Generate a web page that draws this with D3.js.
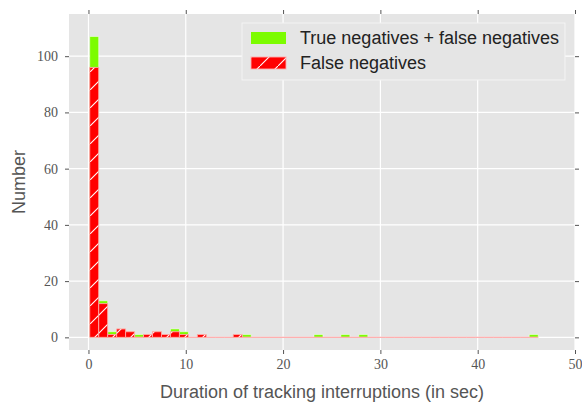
<!DOCTYPE html>
<html>
<head>
<meta charset="utf-8">
<script src="https://cdn.jsdelivr.net/npm/d3@7"></script>
<style>
  body { margin: 0; background: #fff; }
  svg { display: block; }
</style>
</head>
<body>
<div id="viz-wrapper"></div>
<script>
// histogram: 50 equal bins between shortest and longest interruption (sec)
let binMin = 0.13,
    binMax = 46.22,
    binCount = 50;

// counts per bin: true negatives + false negatives (green)
let totalCounts = [107, 13, 2, 3, 2, 1, 1, 2, 1, 3,
                   2, 0, 1, 0, 0, 0, 1, 1, 0, 0,
                   0, 0, 0, 0, 0, 1, 0, 0, 1, 0,
                   1, 0, 0, 0, 0, 0, 0, 0, 0, 0,
                   0, 0, 0, 0, 0, 0, 0, 0, 0, 1];

// counts per bin: false negatives only (red, hatched)
let falseNegCounts = [96, 12, 1, 3, 2, 0, 1, 2, 1, 2,
                      1, 0, 1, 0, 0, 0, 1, 0, 0, 0,
                      0, 0, 0, 0, 0, 0, 0, 0, 0, 0,
                      0, 0, 0, 0, 0, 0, 0, 0, 0, 0,
                      0, 0, 0, 0, 0, 0, 0, 0, 0, 0];

let xTicks = [0, 10, 20, 30, 40, 50];
let yTicks = [0, 20, 40, 60, 80, 100];

let seriesLabels = ['True negatives + false negatives', 'False negatives'];

let width = 582,
    height = 405;

let plot = {left: 69, right: 575, top: 14, bottom: 350};

let xScale = d3.scaleLinear().domain([-2, 50]).range([plot.left, plot.right]);
let yScale = d3.scaleLinear().domain([-4.5, 115]).range([plot.bottom, plot.top]);

let binWidth = (binMax - binMin) / binCount;
let bins = totalCounts.map(function(t, i) {
  return {x0: binMin + i * binWidth, x1: binMin + (i + 1) * binWidth,
          total: t, fn: falseNegCounts[i]};
});

let svg = d3.select('#viz-wrapper')
  .append('svg')
  .attr('width', width)
  .attr('height', height);

// hatch pattern for the false negatives
let defs = svg.append('defs');
let hatch = defs.append('pattern')
  .attr('id', 'hatch')
  .attr('patternUnits', 'userSpaceOnUse')
  .attr('width', 18)
  .attr('height', 18);
hatch.append('rect').attr('width', 18).attr('height', 18).attr('fill', '#ff0000');
hatch.append('path')
  .attr('d', 'M-2,20 L20,-2')
  .attr('stroke', '#ffffff')
  .attr('stroke-width', 1.1);

defs.append('clipPath').attr('id', 'plot-clip')
  .append('rect')
  .attr('x', plot.left).attr('y', plot.top)
  .attr('width', plot.right - plot.left)
  .attr('height', plot.bottom - plot.top);

// background + grid
svg.append('rect')
  .attr('x', plot.left).attr('y', plot.top)
  .attr('width', plot.right - plot.left)
  .attr('height', plot.bottom - plot.top)
  .attr('fill', '#e5e5e5');

let grid = svg.append('g').attr('class', 'grid');
grid.selectAll('line.gx').data(xTicks).enter().append('line')
  .attr('x1', d => xScale(d)).attr('x2', d => xScale(d))
  .attr('y1', plot.top).attr('y2', plot.bottom)
  .attr('stroke', '#ffffff').attr('stroke-width', 1.2);
grid.selectAll('line.gy').data(yTicks).enter().append('line')
  .attr('x1', plot.left).attr('x2', plot.right)
  .attr('y1', d => yScale(d)).attr('y2', d => yScale(d))
  .attr('stroke', '#ffffff').attr('stroke-width', 1.2);

// bars
let barPath = function(val) {
  return function(d) {
    let x0 = xScale(d.x0), x1 = xScale(d.x1),
        y0 = yScale(0), y1 = yScale(val(d));
    return 'M' + x0 + ',' + y0 + 'H' + x1 + 'V' + y1 + 'H' + x0 + 'Z';
  };
};

let bars = svg.append('g').attr('clip-path', 'url(#plot-clip)');

bars.selectAll('path.total').data(bins).enter().append('path')
  .attr('class', 'total')
  .attr('d', barPath(d => d.total))
  .attr('fill', '#7cfc00')
  .attr('stroke', 'rgba(255,255,255,0.5)')
  .attr('stroke-width', 1);

bars.selectAll('path.fn').data(bins).enter().append('path')
  .attr('class', 'fn')
  .attr('d', barPath(d => d.fn))
  .attr('fill', 'url(#hatch)')
  .attr('stroke', 'rgba(255,170,170,0.9)')
  .attr('stroke-width', 1);

// axes: ticks on all four sides, outward
let tickColor = '#555555';
let tickFont = '"Liberation Serif", "DejaVu Serif", serif';

let xAxisBottom = d3.axisBottom(xScale).tickValues(xTicks).tickSize(4).tickPadding(5);
let xAxisTop = d3.axisTop(xScale).tickValues(xTicks).tickSize(4).tickFormat('');
let yAxisLeft = d3.axisLeft(yScale).tickValues(yTicks).tickSize(4).tickPadding(7);
let yAxisRight = d3.axisRight(yScale).tickValues(yTicks).tickSize(4).tickFormat('');

let styleAxis = function(g) {
  g.select('.domain').remove();
  g.selectAll('.tick line').attr('stroke', tickColor);
  g.selectAll('.tick text')
    .attr('fill', tickColor)
    .style('font-family', tickFont)
    .style('font-size', '14px');
};

svg.append('g').attr('transform', 'translate(0,' + plot.bottom + ')').call(xAxisBottom).call(styleAxis);
svg.append('g').attr('transform', 'translate(0,' + plot.top + ')').call(xAxisTop).call(styleAxis);
svg.append('g').attr('transform', 'translate(' + plot.left + ',0)').call(yAxisLeft).call(styleAxis);
svg.append('g').attr('transform', 'translate(' + plot.right + ',0)').call(yAxisRight).call(styleAxis);

// axis titles
let labelFont = '"Liberation Sans", Arial, sans-serif';
svg.append('text')
  .attr('x', (plot.left + plot.right) / 2)
  .attr('y', 398)
  .attr('text-anchor', 'middle')
  .attr('fill', '#555555')
  .style('font-family', labelFont)
  .style('font-size', '18px')
  .text('Duration of tracking interruptions (in sec)');

svg.append('text')
  .attr('transform', 'translate(25,' + ((plot.top + plot.bottom) / 2) + ') rotate(-90)')
  .attr('text-anchor', 'middle')
  .attr('fill', '#555555')
  .style('font-family', labelFont)
  .style('font-size', '18px')
  .text('Number');

// legend
let legend = svg.append('g').attr('transform', 'translate(242,23)');
legend.append('rect')
  .attr('width', 323).attr('height', 57)
  .attr('fill', '#e5e5e5')
  .attr('stroke', '#f4f4f4')
  .attr('stroke-width', 1);

let legendFills = ['#7cfc00', 'url(#hatch)'];
let legendStrokes = ['none', 'rgba(255,170,170,0.9)'];
let legendItems = legend.selectAll('g.item').data(seriesLabels).enter().append('g')
  .attr('class', 'item')
  .attr('transform', (d, i) => 'translate(0,' + (i * 25) + ')');
legendItems.append('rect')
  .attr('x', 9).attr('y', 9)
  .attr('width', 35).attr('height', 12)
  .attr('fill', (d, i) => legendFills[i])
  .attr('stroke', (d, i) => legendStrokes[i]);
legendItems.append('text')
  .attr('x', 58).attr('y', 21)
  .attr('fill', '#222222')
  .style('font-family', labelFont)
  .style('font-size', '18px')
  .text(d => d);
</script>
</body>
</html>
